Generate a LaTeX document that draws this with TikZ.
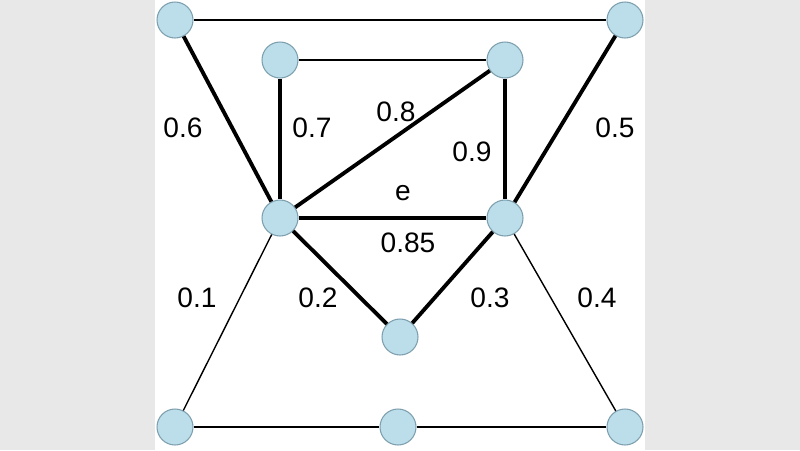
\documentclass[tikz,border=0pt]{standalone}
\usepackage{fontspec}
\setmainfont{Liberation Sans}
\begin{document}
\begin{tikzpicture}[x=0.02cm,y=-0.02cm,
  vtx/.style={circle,draw=gray!70!cyan,fill=cyan!20!gray!25!white,fill=cyan!25!white!85!gray,minimum size=0.72cm,inner sep=0pt,line width=0.6pt},
  thin edge/.style={line width=0.8pt},
  thick edge/.style={line width=2.2pt},
  lbl/.style={font=\fontsize{16}{18}\selectfont}]
\fill[gray!18] (0,0) rectangle (800,450);
\fill[white] (155,0) rectangle (645,450);
\useasboundingbox (0,0) rectangle (800,450);
\node[vtx] (A) at (175,20) {};
\node[vtx] (B) at (625,20) {};
\node[vtx] (C) at (280,60) {};
\node[vtx] (D) at (505,60) {};
\node[vtx] (E) at (280,218) {};
\node[vtx] (F) at (505,218) {};
\node[vtx] (G) at (400,337) {};
\node[vtx] (H) at (175,427) {};
\node[vtx] (I) at (398,427) {};
\node[vtx] (J) at (625,427) {};
\begin{scope}[on background layer/.try]
\end{scope}
\draw[thin edge] (A) -- (B);
\draw[thin edge] (C) -- (D);
\draw[thin edge] (E) -- (H);
\draw[thin edge] (F) -- (J);
\draw[thin edge] (H) -- (I);
\draw[thin edge] (I) -- (J);
\draw[thick edge] (A) -- (E);
\draw[thick edge] (B) -- (F);
\draw[thick edge] (C) -- (E);
\draw[thick edge] (D) -- (E);
\draw[thick edge] (D) -- (F);
\draw[thick edge] (E) -- (F);
\draw[thick edge] (E) -- (G);
\draw[thick edge] (F) -- (G);
\node[lbl] (l06) at (183,128) {0.6};
\node[lbl] (l07) at (312,128) {0.7};
\node[lbl] (l08) at (396,112) {0.8};
\node[lbl] (l09) at (472,152) {0.9};
\node[lbl] (l05) at (615,128) {0.5};
\node[lbl] (le) at (403,193) {e};
\node[lbl] (l085) at (408,243) {0.85};
\node[lbl] (l01) at (197,298) {0.1};
\node[lbl] (l02) at (318,298) {0.2};
\node[lbl] (l03) at (490,298) {0.3};
\node[lbl] (l04) at (597,298) {0.4};
\end{tikzpicture}
\end{document}
